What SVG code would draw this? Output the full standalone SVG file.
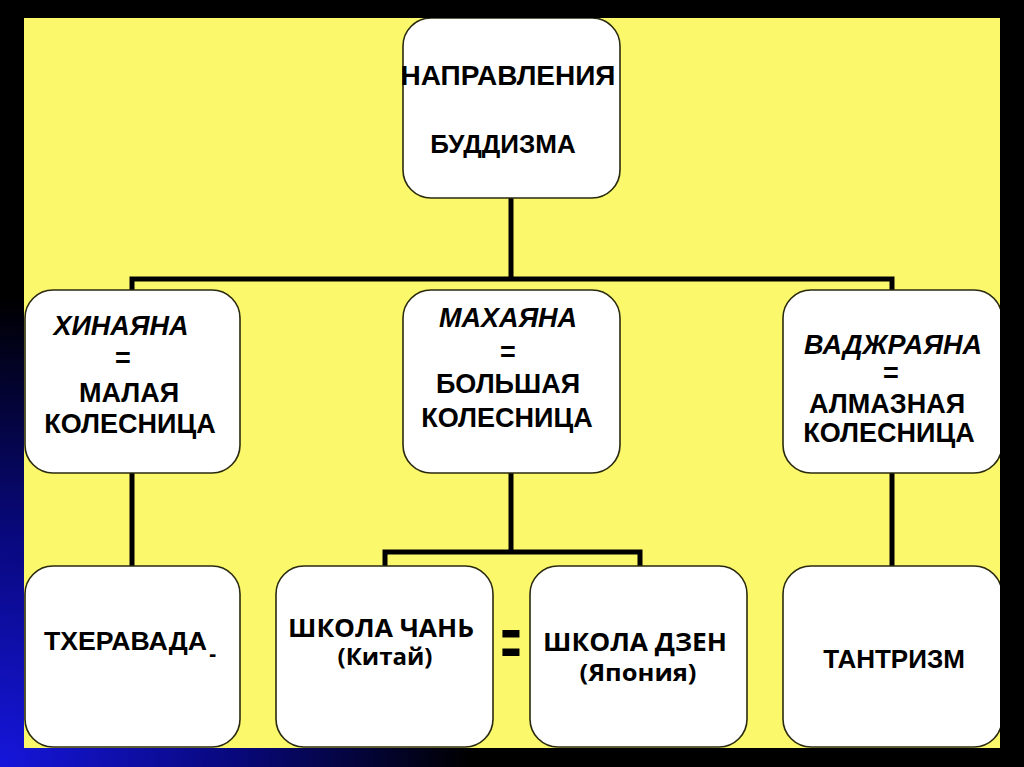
<svg xmlns="http://www.w3.org/2000/svg" width="1024" height="767" viewBox="0 0 1024 767">
<defs>
<radialGradient id="bg" cx="0" cy="767" r="470" gradientUnits="userSpaceOnUse">
<stop offset="0" stop-color="#1616dc"/>
<stop offset="0.5" stop-color="#08087c"/>
<stop offset="1" stop-color="#000000"/>
</radialGradient>
<clipPath id="clip"><rect x="24" y="18" width="976" height="730"/></clipPath>
<style>
.box{fill:#ffffff;stroke:#2a2a10;stroke-width:1.6}
.t{font-family:"Liberation Sans",Arial,sans-serif;font-weight:bold;fill:#000;text-anchor:middle;font-size:27px}
.i{font-style:italic}
.v{font-family:"Open Sans","Noto Sans",sans-serif;font-weight:bold;fill:#000;text-anchor:middle;font-size:25px}
.c{fill:none;stroke:#000;stroke-width:5;stroke-linecap:square}
</style>
</defs>
<rect x="0" y="0" width="1024" height="767" fill="#000"/>
<rect x="0" y="0" width="1024" height="767" fill="url(#bg)"/>
<rect x="24" y="18" width="976" height="730" fill="#fcf86c"/>
<g clip-path="url(#clip)">
<g id="connectors">
<path class="c" d="M511,198 V279 M132,279 H892 M132,279 V290 M892,279 V290"/>
<path class="c" d="M132,473 V566 M892,473 V566"/>
<path class="c" d="M511,473 V552 M385,552 H640 M385,552 V566 M640,552 V566"/>
</g>
<g id="root">
<rect class="box" x="403" y="18" width="217" height="180" rx="28"/>
<text class="t" x="508" y="85" style="font-size:28px">НАПРАВЛЕНИЯ</text>
<text class="t" x="503" y="153" style="font-size:26px">БУДДИЗМА</text>
</g>
<g id="hinayana">
<rect class="box" x="25" y="290" width="215" height="183" rx="28"/>
<text class="t i" x="121" y="335">ХИНАЯНА</text>
<text class="t" x="123" y="367">=</text>
<text class="t" x="129" y="402">МАЛАЯ</text>
<text class="t" x="130" y="433">КОЛЕСНИЦА</text>
</g>
<g id="mahayana">
<rect class="box" x="403" y="290" width="217" height="183" rx="28"/>
<text class="t i" x="508" y="327">МАХАЯНА</text>
<text class="t" x="508" y="361">=</text>
<text class="t" x="508" y="393">БОЛЬШАЯ</text>
<text class="t" x="507" y="427">КОЛЕСНИЦА</text>
</g>
<g id="vajrayana">
<rect class="box" x="783" y="290" width="219" height="183" rx="28"/>
<text class="t i" x="893" y="354">ВАДЖРАЯНА</text>
<text class="t" x="891" y="382">=</text>
<text class="t" x="887" y="413">АЛМАЗНАЯ</text>
<text class="t" x="889" y="442">КОЛЕСНИЦА</text>
</g>
<g id="theravada">
<rect class="box" x="25" y="566" width="215" height="181" rx="28"/>
<text class="t" x="44" y="650" style="text-anchor:start;font-size:26px" textLength="163" lengthAdjust="spacingAndGlyphs">ТХЕРАВАДА</text>
<text class="t" x="209" y="661" style="text-anchor:start;font-size:22px">-</text>
</g>
<g id="chan">
<rect class="box" x="276" y="566" width="217" height="181" rx="28"/>
<text class="v" x="381" y="637" textLength="186" lengthAdjust="spacingAndGlyphs">ШКОЛА ЧАНЬ</text>
<text class="v" x="385" y="665" style="font-size:24px" textLength="95" lengthAdjust="spacingAndGlyphs">(Китай)</text>
</g>
<g id="equal">
<text class="t" transform="translate(511,0) scale(1,2)" x="0" y="333" style="font-size:34px">=</text>
</g>
<g id="zen">
<rect class="box" x="530" y="566" width="217" height="181" rx="28"/>
<text class="v" x="635" y="651" textLength="184" lengthAdjust="spacingAndGlyphs">ШКОЛА ДЗЕН</text>
<text class="v" x="638" y="681" style="font-size:24px" textLength="117" lengthAdjust="spacingAndGlyphs">(Япония)</text>
</g>
<g id="tantrism">
<rect class="box" x="783" y="566" width="219" height="181" rx="28"/>
<text class="t" x="894" y="668" style="font-size:26px">ТАНТРИЗМ</text>
</g>
</g>
</svg>
